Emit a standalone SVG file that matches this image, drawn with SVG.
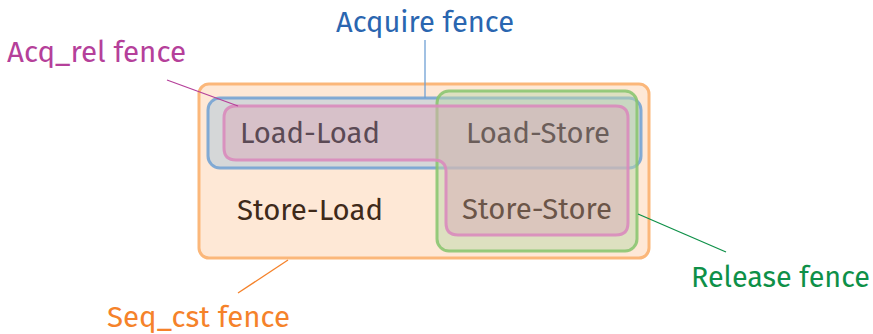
<svg xmlns="http://www.w3.org/2000/svg" width="873" height="334" viewBox="0 0 873 334">
<style>
text{font-family:"Fira Sans","Noto Sans","Open Sans",sans-serif;font-size:29px}
.lead{fill:none;stroke-width:1.3}
</style>
<rect width="873" height="334" fill="#ffffff"/>
<g id="seq_cst">
<rect x="199" y="84" width="450" height="174" rx="10" fill="#fee8d6" stroke="#fbb77a" stroke-width="3"/>
</g>
<g id="acquire">
<rect x="208" y="98" width="433" height="70" rx="12" fill="#acc6da" fill-opacity="0.5" stroke="#6fa0d4" stroke-opacity="0.85" stroke-width="3"/>
</g>
<g id="release">
<rect x="437" y="91" width="200" height="160" rx="12" fill="#bcd8aa" fill-opacity="0.5" stroke="#86c46c" stroke-opacity="0.85" stroke-width="3"/>
</g>
<g id="acq_rel">
<path d="M236,106 H616 Q628,106 628,118 V223 Q628,235 616,235 H458 Q446,235 446,223 V172 Q446,160 434,160 H236 Q224,160 224,148 V118 Q224,106 236,106 Z" fill="#d9acba" fill-opacity="0.5" stroke="#d98bbd" stroke-opacity="0.9" stroke-width="3"/>
</g>
<g id="cells">
<text x="240" y="143" fill="#5b4a55" textLength="140" lengthAdjust="spacingAndGlyphs">Load-Load</text>
<text x="466" y="143" fill="#6b5e5a" textLength="144" lengthAdjust="spacingAndGlyphs">Load-Store</text>
<text x="237" y="220" fill="#3f2a1a" textLength="146" lengthAdjust="spacingAndGlyphs">Store-Load</text>
<text x="462" y="219" fill="#6b5548" textLength="150" lengthAdjust="spacingAndGlyphs">Store-Store</text>
</g>
<g id="connectors">
<line class="lead" x1="425" y1="40" x2="425" y2="98" stroke="#6fa0d4"/>
<line class="lead" x1="167" y1="80" x2="238" y2="106" stroke="#b5409a"/>
<line class="lead" x1="638" y1="214" x2="726" y2="252" stroke="#0e9048"/>
<line class="lead" x1="288" y1="260" x2="238" y2="293" stroke="#f5822a"/>
</g>
<g id="labels">
<text x="336" y="32" fill="#2a66b0" textLength="178" lengthAdjust="spacingAndGlyphs">Acquire fence</text>
<text x="7" y="62" fill="#b5409a" textLength="179" lengthAdjust="spacingAndGlyphs">Acq_rel fence</text>
<text x="691" y="287" fill="#0e9048" textLength="179" lengthAdjust="spacingAndGlyphs">Release fence</text>
<text x="107" y="327" fill="#f5822a" textLength="183" lengthAdjust="spacingAndGlyphs">Seq_cst fence</text>
</g>
</svg>
